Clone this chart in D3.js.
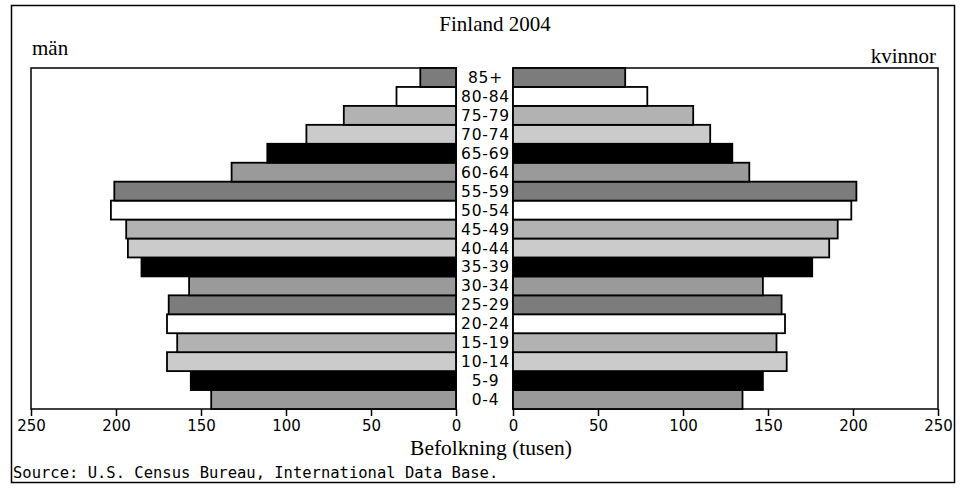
<!DOCTYPE html>
<html>
<head>
<meta charset="utf-8">
<script src="https://cdn.jsdelivr.net/npm/d3@7"></script>
<style>
  body { margin: 0; background: #fff; }
  svg { display: block; }
  .serif { font-family: 'Liberation Serif', 'DejaVu Serif', serif; }
  .sans { font-family: 'DejaVu Sans', sans-serif; }
  .mono { font-family: 'DejaVu Sans Mono', 'Liberation Mono', monospace; }
</style>
</head>
<body>
<svg width="962" height="489"></svg>
<script>
/* global d3 */
var svg = d3.select('svg')

// age groups, youngest first
var ages = ['0-4', '5-9', '10-14', '15-19', '20-24', '25-29', '30-34', '35-39', '40-44',
  '45-49', '50-54', '55-59', '60-64', '65-69', '70-74', '75-79', '80-84', '85+']
// population in thousands
var men = [144, 156, 170, 164, 170, 169, 157, 185, 193, 194, 203, 201, 132, 111, 88, 66, 35, 21]
var women = [135, 147, 161, 155, 160, 158, 147, 176, 186, 191, 199, 202, 139, 129, 116, 106, 79, 66]
// fill cycle, from the bottom bar up
var fills = ['#9a9a9a', '#000000', '#cbcbcb', '#b2b2b2', '#ffffff', '#7c7c7c']
var ticks = [0, 50, 100, 150, 200, 250]

var plotTop = 68
var plotBottom = 409
var leftX0 = 456   // zero of men axis
var leftX1 = 31    // 250 of men axis
var rightX0 = 513
var rightX1 = 938

var y = d3.scaleBand()
  .domain(ages.slice().reverse())
  .range([plotTop, plotBottom])
  .padding(0)

var xMen = d3.scaleLinear().domain([0, 250]).range([leftX0, leftX1])
var xWomen = d3.scaleLinear().domain([0, 250]).range([rightX0, rightX1])

// outer frame
svg.append('rect')
  .attr('x', 11.5).attr('y', 5.5)
  .attr('width', 943).attr('height', 477)
  .attr('fill', 'none').attr('stroke', '#000').attr('stroke-width', 1.5)

// plot boxes
;[[leftX1, leftX0], [rightX0, rightX1]].forEach(function (b) {
  svg.append('rect')
    .attr('x', b[0]).attr('y', plotTop)
    .attr('width', b[1] - b[0]).attr('height', plotBottom - plotTop)
    .attr('fill', 'none').attr('stroke', '#000').attr('stroke-width', 1.5)
})

var rows = ages.map(function (a, i) {
  return { age: a, men: men[i], women: women[i], fill: fills[i % fills.length] }
})

svg.append('g').selectAll('rect')
  .data(rows)
  .enter().append('rect')
    .attr('x', d => xMen(d.men))
    .attr('y', d => y(d.age))
    .attr('width', d => xMen(0) - xMen(d.men))
    .attr('height', y.bandwidth())
    .attr('fill', d => d.fill)
    .attr('stroke', '#000')
    .attr('stroke-width', 1.8)

svg.append('g').selectAll('rect')
  .data(rows)
  .enter().append('rect')
    .attr('x', xWomen(0))
    .attr('y', d => y(d.age))
    .attr('width', d => xWomen(d.women) - xWomen(0))
    .attr('height', y.bandwidth())
    .attr('fill', d => d.fill)
    .attr('stroke', '#000')
    .attr('stroke-width', 1.8)

// age labels in the gap
svg.append('g').selectAll('text')
  .data(rows)
  .enter().append('text')
    .attr('class', 'sans')
    .attr('x', (leftX0 + rightX0) / 2 + 1)
    .attr('y', d => y(d.age) + y.bandwidth() / 2)
    .attr('dy', '0.36em')
    .attr('text-anchor', 'middle')
    .attr('font-size', 15.5)
    .attr('letter-spacing', 0.8)
    .text(d => d.age)

// bottom axes
function drawAxis (scale) {
  var g = svg.append('g')
    .attr('transform', 'translate(0,' + plotBottom + ')')
    .call(d3.axisBottom(scale).tickValues(ticks).tickSize(7).tickPadding(4))
  g.select('.domain').remove()
  g.selectAll('line').attr('stroke', '#000').attr('stroke-width', 1.5)
  g.selectAll('text')
    .attr('class', 'sans')
    .attr('font-size', 15)
    .attr('fill', '#000')
}
drawAxis(xMen)
drawAxis(xWomen)

// titles
svg.append('text')
  .attr('class', 'serif')
  .attr('x', 495).attr('y', 31)
  .attr('text-anchor', 'middle')
  .attr('font-size', 21)
  .text('Finland 2004')

svg.append('text')
  .attr('class', 'serif')
  .attr('x', 32).attr('y', 55)
  .attr('font-size', 21)
  .text('män')

svg.append('text')
  .attr('class', 'serif')
  .attr('x', 936).attr('y', 63)
  .attr('text-anchor', 'end')
  .attr('font-size', 21)
  .text('kvinnor')

svg.append('text')
  .attr('class', 'serif')
  .attr('x', 491).attr('y', 455)
  .attr('text-anchor', 'middle')
  .attr('font-size', 21.5)
  .text('Befolkning (tusen)')

svg.append('text')
  .attr('class', 'mono')
  .attr('x', 13).attr('y', 478)
  .attr('font-size', 15.5)
  .text('Source: U.S. Census Bureau, International Data Base.')
</script>
</body>
</html>
